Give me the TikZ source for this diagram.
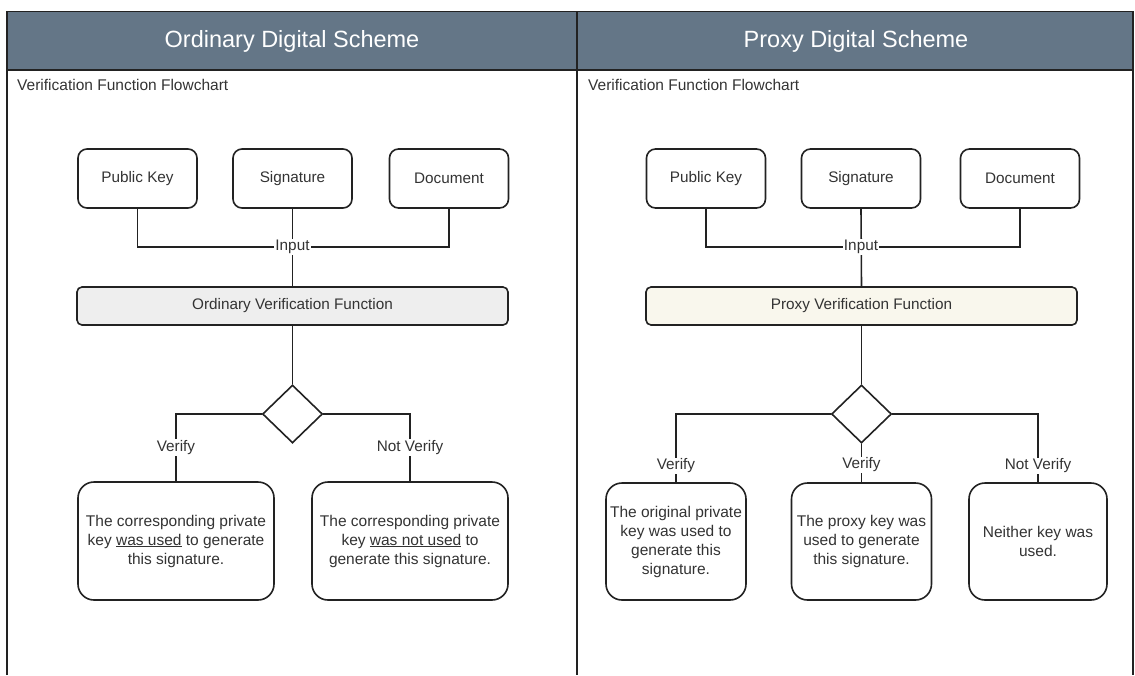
\documentclass[tikz,border=0pt]{standalone}
\usepackage{fontspec}
\setmainfont{Liberation Sans}
\usetikzlibrary{shapes.geometric}
\definecolor{headfill}{HTML}{647687}
\definecolor{ordfill}{HTML}{EEEEEE}
\definecolor{proxfill}{HTML}{F9F7ED}
\definecolor{ink}{HTML}{222222}
\definecolor{txt}{HTML}{333333}
\tikzset{
  frameline/.style={draw=ink, line width=1.8pt},
  wire/.style={draw=ink, line width=1.6pt},
  inbox/.style={draw=ink, line width=1.6pt, rounded corners=9pt, fill=white,
    minimum width=119pt, minimum height=59pt, inner sep=0pt, text=txt,
    font=\fontsize{15.3}{18}\selectfont},
  funcbox/.style={draw=ink, line width=1.6pt, rounded corners=5pt, text=txt,
    minimum width=431pt, minimum height=38pt, inner sep=0pt,
    font=\fontsize{15.3}{18}\selectfont},
  decide/.style={draw=ink, line width=1.6pt, diamond, fill=white,
    minimum width=60pt, minimum height=58pt, inner sep=0pt, aspect=1.03},
  outbox/.style={draw=ink, line width=1.6pt, rounded corners=16pt, fill=white,
    inner sep=0pt, align=center, text=txt, font=\fontsize{15.5}{19}\selectfont},
  tag/.style={fill=white, inner sep=1pt, font=\fontsize{15.3}{18}\selectfont, text=txt},
  headtext/.style={text=white, font=\fontsize{23.5}{27}\selectfont},
  subtitle/.style={anchor=west, inner sep=0pt, font=\fontsize{15.5}{18}\selectfont, text=txt},
}
\begin{document}
\begin{tikzpicture}[x=1pt, y=-1pt]
\useasboundingbox (0,0) rectangle (1135,675);

% header band and panel frame
\fill[headfill] (7,11.5) rectangle (1133,70);
\draw[frameline] (7,675) -- (7,11.5) -- (1133,11.5) -- (1133,675);
\draw[frameline] (7,70) -- (1133,70);
\draw[frameline] (577,11.5) -- (577,675);

\node[headtext] (hl) at (292,41) {Ordinary Digital Scheme};
\node[headtext] (hr) at (856,41) {Proxy Digital Scheme};
\node[subtitle] (sl) at (17,85) {Verification Function Flowchart};
\node[subtitle] (sr) at (588,85) {Verification Function Flowchart};

% ---------------- ordinary scheme ----------------
\node[inbox] (pk1)  at (137.5,178.5) {Public Key};
\node[inbox] (sig1) at (292.5,178.5) {Signature};
\node[inbox] (doc1) at (449,178.5) {Document};
\node[funcbox, fill=ordfill] (fn1) at (292.5,306) {Ordinary Verification Function};
\node[decide] (d1) at (292.5,414) {};
\node[outbox, minimum width=196pt, minimum height=118pt] (r1a) at (176,541)
  {The corresponding private\\key \underline{was used} to generate\\this signature.};
\node[outbox, minimum width=196pt, minimum height=118pt] (r1b) at (410,541)
  {The corresponding private\\key \underline{was not used} to\\generate this signature.};

\coordinate (j1) at (292.5,247);
\draw[wire] (pk1.south) |- (j1) -| (doc1.south);
\draw[wire] (sig1.south) -- (fn1.north);
\node[tag] (in1) at (j1) {Input};
\draw[wire] (fn1.south) -- (d1.north);
\draw[wire] (d1.west) -| node[tag, pos=0.75] (v1) {Verify} (r1a.north);
\draw[wire] (d1.east) -| node[tag, pos=0.75] (nv1) {Not Verify} (r1b.north);

% ---------------- proxy scheme ----------------
\node[inbox] (pk2)  at (706,178.5) {Public Key};
\node[inbox] (sig2) at (861,178.5) {Signature};
\node[inbox] (doc2) at (1020,178.5) {Document};
\node[funcbox, fill=proxfill] (fn2) at (861.5,306) {Proxy Verification Function};
\node[decide] (d2) at (861.5,414) {};
\node[outbox, minimum width=140pt, minimum height=117pt] (r2a) at (676,541.5)
  {The original private\\key was used to\\generate this\\signature.};
\node[outbox, minimum width=140pt, minimum height=117pt] (r2b) at (861.5,541.5)
  {The proxy key was\\used to generate\\this signature.};
\node[outbox, minimum width=138pt, minimum height=117pt] (r2c) at (1038,541.5)
  {Neither key was\\used.};

\coordinate (j2) at (861,247);
\draw[wire] (pk2.south) |- (j2) -| (doc2.south);
\draw[wire] (sig2.south) -- (fn2.north);
\node[tag] (in2) at (j2) {Input};
\draw[wire] (fn2.south) -- (d2.north);
\draw[wire] (d2.west) -| node[tag, pos=0.88] (v2a) {Verify} (r2a.north);
\draw[wire] (d2.south) -- node[tag, pos=0.55] (v2b) {Verify} (r2b.north);
\draw[wire] (d2.east) -| node[tag, pos=0.88] (nv2) {Not Verify} (r2c.north);
\end{tikzpicture}
\end{document}
